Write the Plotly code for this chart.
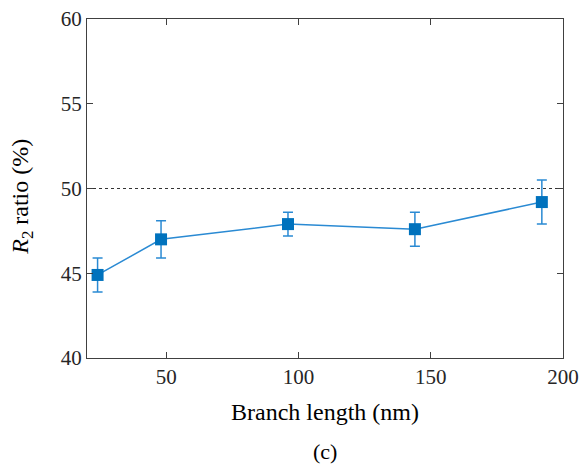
import plotly.graph_objects as go

branch_length = [24, 48, 96, 144, 192]
r2_ratio = [44.9, 47.0, 47.9, 47.6, 49.2]
r2_err = [1.0, 1.1, 0.7, 1.0, 1.3]
x_ticks = [50, 100, 150, 200]
y_ticks = [40, 45, 50, 55, 60]
ref_level = 50

FONT = "Liberation Serif, Times New Roman, serif"
TXT = "#262626"

fig = go.Figure()
fig.add_trace(go.Scatter(
    x=[20, 200], y=[ref_level, ref_level], mode="lines",
    line=dict(color="#333333", width=1.2, dash="dot"),
    showlegend=False, hoverinfo="skip"))
fig.add_trace(go.Scatter(
    x=branch_length, y=r2_ratio, mode="lines+markers",
    line=dict(color="#2a8ad3", width=1.5),
    marker=dict(symbol="square", size=12, color="#0072BD"),
    error_y=dict(type="data", array=r2_err, visible=True,
                 color="#2a8ad3", thickness=1.5, width=5),
    showlegend=False))

axis_common = dict(
    showline=True, linecolor="#404040", linewidth=1, mirror="ticks",
    ticks="inside", ticklen=6, tickcolor="#404040", showgrid=False,
    zeroline=False, automargin=False, ticklabeloverflow="allow",
    tickfont=dict(family=FONT, size=21, color=TXT))

fig.update_xaxes(range=[20, 200], tickvals=x_ticks,
                 title=dict(text="Branch length (nm)", font=dict(family=FONT, size=24, color="black"), standoff=14),
                 **axis_common)
fig.update_yaxes(range=[40, 60], tickvals=y_ticks, **axis_common)

fig.add_annotation(text="<i>R</i><sub>2</sub> ratio (%)", xref="paper", yref="paper",
                   x=-0.137, y=0.475, textangle=-90, xanchor="center", yanchor="middle",
                   showarrow=False, font=dict(family=FONT, size=24, color="black"))

fig.add_annotation(text="(c)", xref="paper", yref="paper", x=0.5, y=-0.277,
                   xanchor="center", yanchor="middle", showarrow=False,
                   font=dict(family=FONT, size=22, color="black"))

fig.update_layout(width=581, height=469, margin=dict(l=87, r=18, t=19, b=111),
                  plot_bgcolor="white", paper_bgcolor="white")

# remove the page's default body margin so the figure fills the window exactly
fig.write_html("out.html", config={"displayModeBar": False},
               post_script="document.body.style.margin='0';document.body.style.overflow='hidden';")
